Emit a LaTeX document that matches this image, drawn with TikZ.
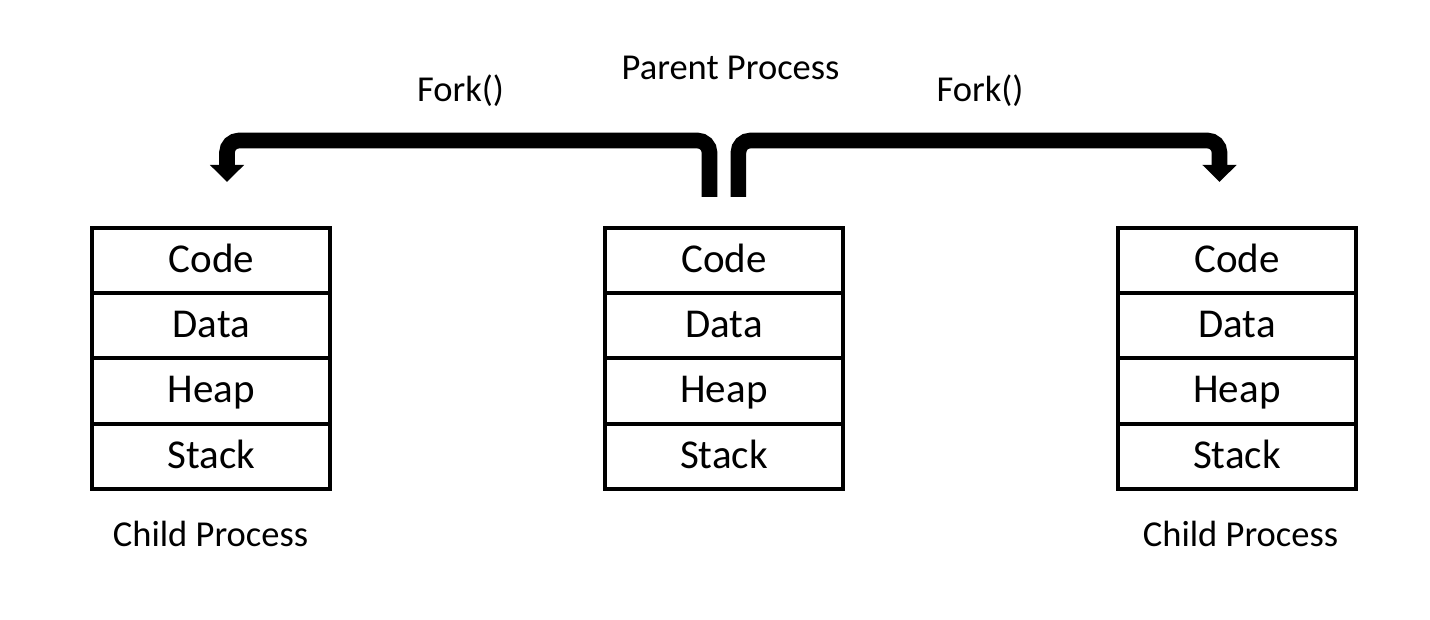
\documentclass[tikz,border=0pt]{standalone}
\usepackage{fontspec}
\setmainfont{Carlito}
\usetikzlibrary{arrows.meta,positioning}
\tikzset{
  cell/.style={draw, line width=4pt, minimum width=238pt, minimum height=65.3pt,
    inner sep=0pt, outer sep=0pt, font=\fontsize{41}{41}\selectfont,
    text height=30pt, text depth=6pt, anchor=north},
  lbl/.style={font=\fontsize{36.5}{36.5}\selectfont, anchor=base, inner sep=0pt},
  forkarrow/.style={line width=15.6pt, rounded corners=12pt,
    -{Triangle[width=33pt,length=17pt]}}
}
\begin{document}
\begin{tikzpicture}[x=1pt,y=-1pt]
\useasboundingbox (0,0) rectangle (1430,620);
% left child
\node[cell] (l1) at (211.3,227.7) {Code};
\node[cell, below=0pt of l1] (l2) {Data};
\node[cell, below=0pt of l2] (l3) {Heap};
\node[cell, below=0pt of l3] (l4) {Stack};
% parent
\node[cell] (p1) at (724,227.7) {Code};
\node[cell, below=0pt of p1] (p2) {Data};
\node[cell, below=0pt of p2] (p3) {Heap};
\node[cell, below=0pt of p3] (p4) {Stack};
% right child
\node[cell] (r1) at (1237,227.7) {Code};
\node[cell, below=0pt of r1] (r2) {Data};
\node[cell, below=0pt of r2] (r3) {Heap};
\node[cell, below=0pt of r3] (r4) {Stack};
% labels
\node[lbl] (parentlbl) at (730.5,79.5) {Parent Process};
\node[lbl] (forkL) at (460.5,102) {Fork()};
\node[lbl] (forkR) at (980,102) {Fork()};
\node[lbl] (childL) at (210.5,546) {Child Process};
\node[lbl] (childR) at (1240.5,546) {Child Process};
% arrows
\coordinate (stemL) at (709.5,197);
\coordinate (stemR) at (738.4,197);
\coordinate (tipL) at (227,182);
\coordinate (tipR) at (1219.5,182);
\draw[forkarrow] (stemL) -- (stemL |- 0,140.5) -- (tipL |- 0,140.5) -- (tipL);
\draw[forkarrow] (stemR) -- (stemR |- 0,140.5) -- (tipR |- 0,140.5) -- (tipR);
\end{tikzpicture}
\end{document}
